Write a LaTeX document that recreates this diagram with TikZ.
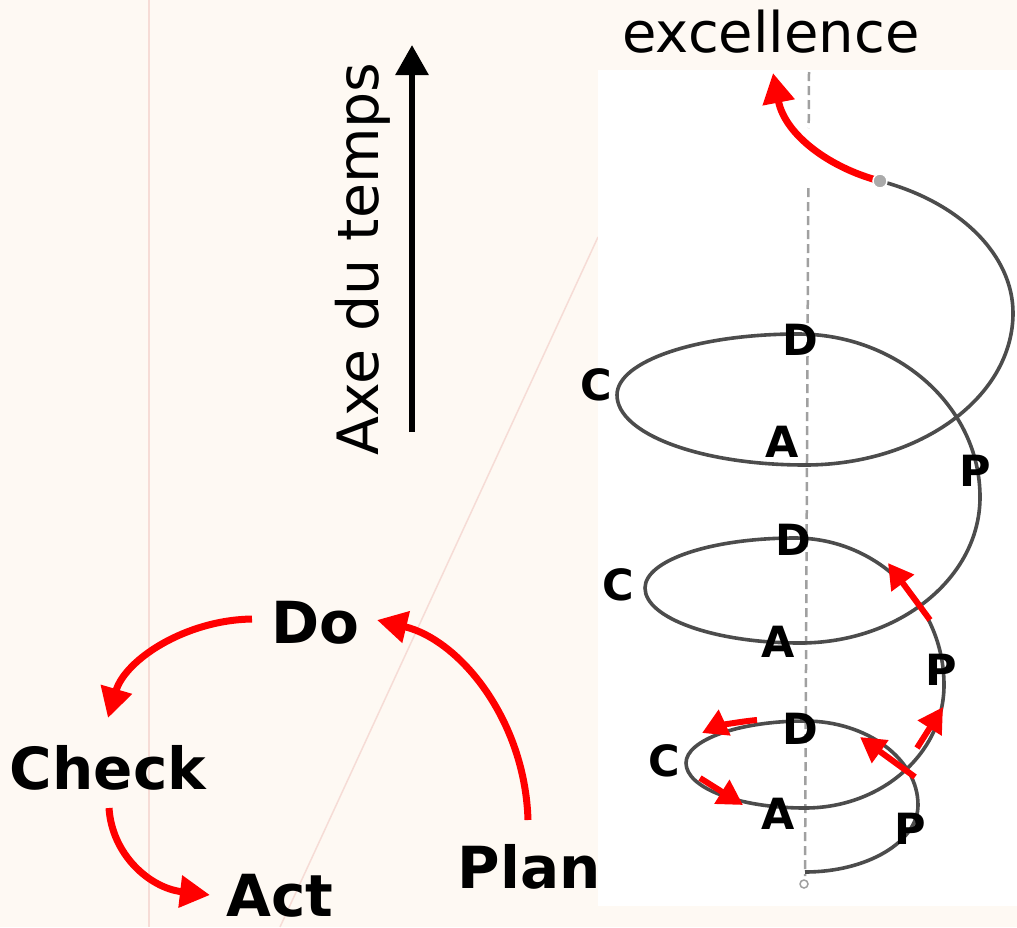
\documentclass[tikz,border=0pt]{standalone}
\usepackage{fontspec}
\setmainfont{DejaVu Sans}
\usetikzlibrary{arrows.meta}
\definecolor{parch}{HTML}{FEF9F3}
\definecolor{parchline}{HTML}{F6DCD6}
\definecolor{spiralgray}{HTML}{4C4C4C}
\definecolor{axisgray}{HTML}{A0A0A0}
\definecolor{dotgray}{HTML}{AAAAAA}
\definecolor{pdcared}{HTML}{FF0000}
\tikzset{
  bigword/.style={font=\bfseries\fontsize{58}{60}\selectfont, inner sep=0pt, anchor=base},
  plainword/.style={font=\fontsize{56}{58}\selectfont, inner sep=0pt, anchor=base},
  lbl/.style={font=\bfseries\fontsize{43}{45}\selectfont, inner sep=0pt},
  cyclearrow/.style={draw=pdcared, line width=7pt, -{Triangle[length=30pt,width=31pt]}},
  smallred/.style={draw=pdcared, line width=6pt, -{Triangle[length=25pt,width=27pt]}},
  helix/.style={draw=spiralgray, line width=3.6pt},
  axisline/.style={draw=axisgray, line width=2.5pt, dash pattern=on 9pt off 5pt},
}
\begin{document}
\begin{tikzpicture}[x=1pt,y=-1pt]
\useasboundingbox (0,0) rectangle (1017,927);
% background
\fill[parch] (0,0) rectangle (1017,927);
\draw[parchline, line width=2pt] (149,0) -- (149,927);
\draw[parchline, line width=1.5pt] (598,237) -- (280,927);
\fill[white] (598,70) rectangle (1017,906);

% time axis
\node[plainword, font=\fontsize{57}{59}\selectfont, rotate=90] (axe) at (378,259) {Axe du temps};
\coordinate (axebot) at (412,432);
\coordinate (axetop) at (412,45);
\draw[black, line width=6pt, -{Triangle[length=30pt,width=32pt]}] (axebot) -- (axetop);

% dashed vertical axis of the spiral
\coordinate (ax1) at (809,72);
\coordinate (ax2) at (808.7,128);
\coordinate (ax3) at (808.3,188);
\coordinate (ax4) at (805,876);
\draw[axisline] (ax1) -- (ax2);
\draw[axisline] (ax3) -- (ax4);
\node[circle, draw=axisgray, fill=white, line width=1.5pt, minimum size=8pt, inner sep=0pt] (origin) at (804,884) {};

% spiral
\coordinate (S) at (805,872);
\coordinate (E) at (880,181);
\draw[helix] (S)
  .. controls (867,872) and (918,842) .. (918,805)
  .. controls (918,759) and (867,721) .. (805,721)
  .. controls (739,721) and (686,740) .. (686,763)
  .. controls (686,788) and (739,808) .. (805,808)
  .. controls (882,808) and (944,753) .. (944,685)
  .. controls (944,604) and (877,538) .. (795,538)
  .. controls (712,538) and (645,560) .. (645,588)
  .. controls (645,618) and (714,643) .. (800,643)
  .. controls (899,643) and (980,578) .. (980,497)
  .. controls (980,407) and (898,334) .. (798,334)
  .. controls (698,334) and (617,361) .. (617,395)
  .. controls (617,434) and (701,465) .. (805,465)
  .. controls (920,465) and (1013,397) .. (1013,313)
  .. controls (1013,255) and (960,202) .. (E);

% red arrows on the spiral
\coordinate (exc) at (773,73);
\draw[cyclearrow, line width=7pt] (E) .. controls (830,168) and (785,135) .. (exc);
\coordinate (pd1a) at (915,777); \coordinate (pd1b) at (860,737);
\coordinate (dc1a) at (757,720); \coordinate (dc1b) at (702,733);
\coordinate (ca1a) at (700,778); \coordinate (ca1b) at (743,805);
\coordinate (ap1a) at (917,748); \coordinate (ap1b) at (943,707);
\coordinate (pd2a) at (930,620); \coordinate (pd2b) at (888,563);
\draw[smallred] (pd1a) -- (pd1b);
\draw[smallred] (dc1a) .. controls (735,722) and (715,727) .. (dc1b);
\draw[smallred] (ca1a) -- (ca1b);
\draw[smallred] (ap1a) -- (ap1b);
\draw[smallred] (pd2a) -- (pd2b);
\node[circle, fill=dotgray, draw=white, line width=1.5pt, minimum size=14pt, inner sep=0pt] (enddot) at (E) {};

% spiral labels
\node[lbl] (D3) at (800,340) {D};
\node[lbl] (C3) at (596,385) {C};
\node[lbl] (A3) at (782,442) {A};
\node[lbl] (P3) at (975,471) {P};
\node[lbl] (D2) at (793,540) {D};
\node[lbl] (C2) at (618,585) {C};
\node[lbl] (A2) at (778,642) {A};
\node[lbl] (P2) at (941,670) {P};
\node[lbl] (D1) at (800,729) {D};
\node[lbl] (C1) at (664,761) {C};
\node[lbl] (A1) at (778,814) {A};
\node[lbl] (P1) at (910,829) {P};

% excellence
\node[plainword] (excellence) at (771,52) {excellence};

% PDCA cycle
\node[bigword] (do) at (315,643) {Do};
\node[bigword] (check) at (108,789) {Check};
\node[bigword] (act) at (280,916) {Act};
\node[bigword] (plan) at (529,888) {Plan};
\coordinate (doW) at (252,619);
\coordinate (checkN) at (108,718);
\coordinate (checkS) at (109,808);
\coordinate (actW) at (210,895);
\coordinate (planN) at (528,820);
\coordinate (doE) at (377,620);
\draw[cyclearrow] (doW) .. controls (185,620) and (125,660) .. (checkN);
\draw[cyclearrow] (checkS) .. controls (112,855) and (150,888) .. (actW);
\draw[cyclearrow] (planN) .. controls (525,720) and (460,640) .. (doE);
\end{tikzpicture}
\end{document}
